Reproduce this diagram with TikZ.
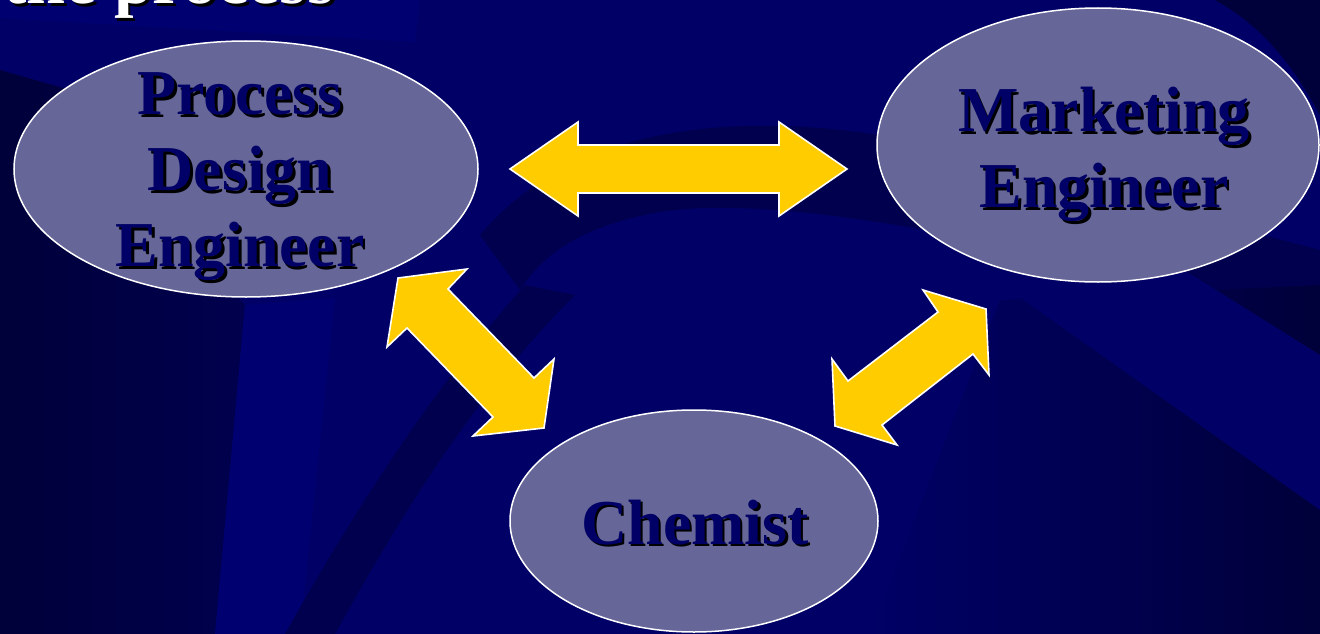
\documentclass[tikz,border=0pt]{standalone}
\usepackage{fontspec}
\setmainfont{Liberation Serif}
\usetikzlibrary{shapes.geometric}
\definecolor{bgnavy}{HTML}{000066}
\definecolor{bgdark}{HTML}{00004E}
\definecolor{bgdarker}{HTML}{00003A}
\definecolor{bglight}{HTML}{000070}
\definecolor{ellfill}{HTML}{666699}
\definecolor{txtnavy}{HTML}{000066}
\definecolor{arrowyellow}{HTML}{FFCC00}
\newcommand\shtxt[2][2.5pt]{\leavevmode\rlap{\hspace{#1}\raisebox{-#1}{\color{black}#2}}#2}
\tikzset{
  role/.style={ellipse, draw=white, line width=1.5pt, fill=ellfill, inner sep=0pt},
  lbl/.style={text=txtnavy, font=\fontsize{64}{76}\selectfont\bfseries, align=center, inner sep=0pt},
  blockarrow/.style={fill=arrowyellow, draw=white, line width=1.6pt, line join=miter},
}
\begin{document}
\begin{tikzpicture}[x=1pt,y=-1pt]
\useasboundingbox (0,0) rectangle (1320,634);
% background
\fill[bgnavy] (0,0) rectangle (1320,634);
\fill[bglight] (0,0) -- (420,0) -- (415,42) -- (0,18) -- cycle;
\shade[left color=bgdarker, right color=bgdark] (0,70) -- (70,90) -- (245,305) -- (215,634) -- (0,634) -- cycle;
\fill[bglight] (215,634) -- (245,305) -- (335,298) -- (300,634) -- cycle;
\fill[bgdark] (285,634) -- (335,634) .. controls (420,480) and (490,380) .. (575,295) -- (525,285) .. controls (440,380) and (360,500) .. cycle;
\fill[bgdark] (480,235) .. controls (560,140) and (700,108) .. (880,135)
  -- (1320,250) -- (1320,330) .. controls (1100,260) and (800,190) .. (660,212)
  .. controls (590,224) and (545,250) .. (520,290) -- cycle;
\fill[bgdarker] (1215,0) -- (1320,0) -- (1320,115) .. controls (1290,60) and (1260,25) .. cycle;
\shade[left color=bgnavy, right color=bgdarker] (870,634) -- (1000,300) -- (1320,285) -- (1320,634) -- cycle;
\fill[bgnavy] (960,255) -- (1160,255) -- (1320,355) -- (1320,510) -- cycle;
% title fragment
\node[text=white, font=\fontsize{70}{80}\selectfont\bfseries, anchor=base west, inner sep=0pt] (title) at (3,4) {\shtxt[3pt]{the process}};
% ellipses
\node[role, minimum width=464pt, minimum height=256pt] (pde) at (246,169) {};
\node[role, minimum width=442pt, minimum height=274pt] (mkt) at (1098,145) {};
\node[role, minimum width=368pt, minimum height=222pt] (chem) at (694,521) {};
% labels
\node[lbl] (pdetxt) at (240,178) {\shtxt{Process}\\\shtxt{Design}\\\shtxt{Engineer}};
\node[lbl] (mkttxt) at (1104,156) {\shtxt{Marketing}\\\shtxt{Engineer}};
\node[lbl, anchor=base] (chemtxt) at (695,544) {\shtxt{Chemist}};
% block arrows
\draw[blockarrow] (510,169) -- (578,122) -- (578,145) -- (779,145) -- (779,122) -- (847,169)
  -- (779,216) -- (779,193) -- (578,193) -- (578,216) -- cycle;
\draw[blockarrow] (398,278) -- (467,269) -- (448,289) -- (534,378) -- (554,359) -- (544,428)
  -- (473,436) -- (493,417) -- (407,328) -- (387,347) -- cycle;
\draw[blockarrow] (923,290) -- (986,309) -- (989,375) -- (973,354) -- (882,425) -- (897,445)
  -- (835,426) -- (832,359) -- (848,381) -- (938,312) -- cycle;
\end{tikzpicture}
\end{document}
